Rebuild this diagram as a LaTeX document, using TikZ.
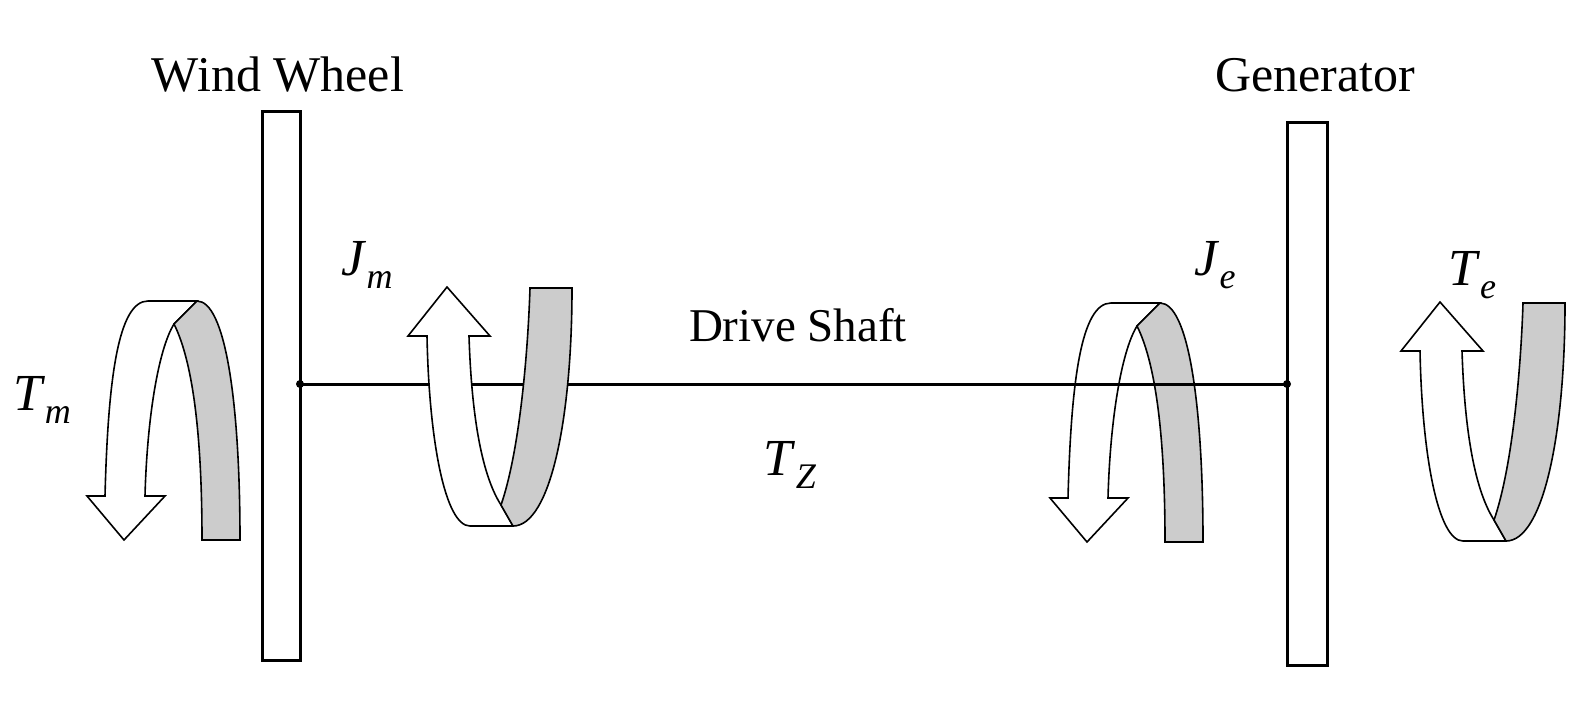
\documentclass[tikz,border=0pt]{standalone}
\usepackage{fontspec}
\setmainfont{Liberation Serif}
\newcommand{\vsym}[2]{\textit{#1}\raisebox{-0.25em}{\fontsize{36}{40}\selectfont\textit{#2}}}
\begin{document}
\begin{tikzpicture}[x=1pt,y=-1pt,
  plate/.style={draw,line width=3pt,fill=white},
  band/.style={draw,line width=1.6pt,line join=miter},
  lbl/.style={font=\fontsize{50}{56}\selectfont,inner sep=0pt},
  mlbl/.style={font=\fontsize{52}{56}\selectfont,inner sep=0pt}]
\useasboundingbox (0,0) rectangle (1594,705);
\tikzset{
  archarrow/.pic={
    \draw[band,fill=white] (105,496) .. controls (108,380) and (118,301) .. (148,301) -- (197,301) -- (174,324) .. controls (158,350) and (147,420) .. (145,496) -- (165,496) -- (124,540) -- (87,496) -- cycle;
    \draw[band,fill=black!20] (197,301) .. controls (225,301) and (240,400) .. (240,540) -- (202,540) .. controls (202,430) and (192,360) .. (174,324) -- cycle;
  },
  uarrow/.pic={
    \draw[band,fill=white] (447,287) -- (490,336) -- (469,336) .. controls (472,430) and (485,480) .. (501,505) -- (513,526) -- (470,526) .. controls (445,526) and (429,440) .. (427,336) -- (408,336) -- cycle;
    \draw[band,fill=black!20] (530,288) -- (572,288) .. controls (572,420) and (550,526) .. (513,526) -- (501,505) .. controls (520,450) and (528,350) .. (530,288) -- cycle;
  }}
% arch arrows under shaft
\pic at (0,0) {archarrow};
\pic at (963,2) {archarrow};
% plates
\node[plate,minimum width=38pt,minimum height=549pt,inner sep=0pt] (ww) at (281,385.5) {};
\node[plate,minimum width=40pt,minimum height=543pt,inner sep=0pt] (gen) at (1307,393.5) {};
% shaft
\coordinate (sl) at (300,384);
\coordinate (sr) at (1287,384);
\draw[line width=3pt] (sl) -- (sr);
\fill (sl) circle (4pt);
\fill (sr) circle (4pt);
% U arrows over shaft
\pic at (0,0) {uarrow};
\pic at (993,15) {uarrow};
% labels
\node[lbl] (tww) at (278,75) {Wind Wheel};
\node[lbl] (tgen) at (1315,75) {Generator};
\node[lbl,font=\fontsize{47}{52}\selectfont] (tds) at (798,325) {Drive Shaft};
\node[mlbl] (tz) at (790,465) {\vsym{T}{Z}};
\node[mlbl] (jm) at (367,265) {\vsym{J}{m}};
\node[mlbl] (je) at (1215,265) {\vsym{J}{e}};
\node[mlbl] (tm) at (42,400) {\vsym{T}{m}};
\node[mlbl] (te) at (1472,275) {\vsym{T}{e}};
\end{tikzpicture}
\end{document}
